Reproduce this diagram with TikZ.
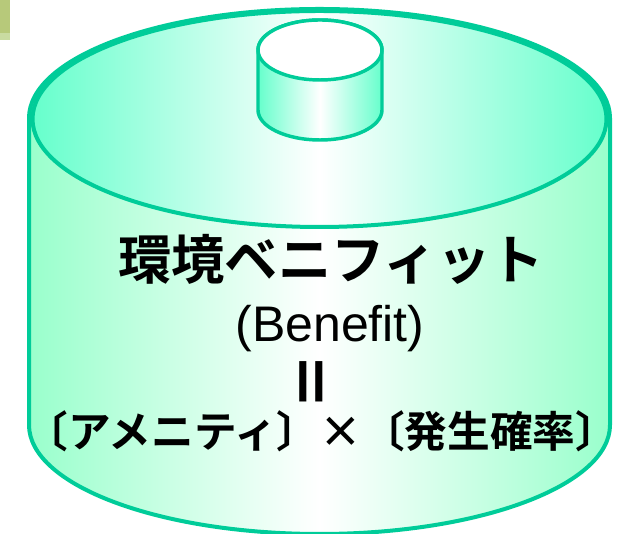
\documentclass[tikz,border=0pt]{standalone}
\usepackage{fontspec}
\setmainfont{Liberation Sans}
\newfontfamily\jpfont{Noto Sans CJK JP}[BoldFont={* Bold}]
\definecolor{rim}{HTML}{00CC99}
\definecolor{topmint}{HTML}{66FFCC}
\definecolor{bodymint}{HTML}{99FFCC}
\definecolor{barA}{HTML}{B7C97A}
\definecolor{barB}{HTML}{C9DBA1}
\tikzset{
  rimline/.style={draw=rim, line width=3pt},
  smallrim/.style={draw=rim, line width=2.6pt},
  jptext/.style={inner sep=0pt, anchor=base, font=\jpfont\bfseries},
}
\begin{document}
\begin{tikzpicture}[x=0.75pt,y=0.75pt]
\useasboundingbox (0,0) rectangle (617,534);
% corner bar
\fill[barB] (0,494) rectangle (9.5,501);
\fill[barA] (0,501) rectangle (9.5,534);
% big cylinder body
\path[rimline, left color=bodymint, right color=bodymint, middle color=white]
  (29,416) -- (29,109) arc[start angle=180, end angle=360, x radius=290.5, y radius=109]
  -- (610,416) arc[start angle=0, end angle=180, x radius=290.5, y radius=109] -- cycle;
% big top
\path[rimline, left color=topmint, right color=topmint, middle color=white]
  (319.5,415) ellipse [x radius=287, y radius=108];
% small cylinder body
\path[smallrim, left color=topmint, right color=topmint, middle color=white]
  (258,484) -- (258,424) arc[start angle=180, end angle=360, x radius=62, y radius=30]
  -- (382,484) arc[start angle=0, end angle=180, x radius=62, y radius=30] -- cycle;
\path[smallrim, fill=white] (320,484) ellipse [x radius=62, y radius=30];
% texts
\node[jptext, font=\jpfont\bfseries\fontsize{40pt}{40pt}\selectfont] (t1) at (331,254) {環境ベニフィット};
\node[inner sep=0pt, anchor=base, font=\fontsize{37.5pt}{37.5pt}\selectfont] (t2) at (330,192) {(Benefit)};
\node[inner sep=0pt, anchor=base, font=\bfseries\fontsize{32pt}{32pt}\selectfont] (t3) at (311,141) {\scalebox{1.3}[1]{||}};
\node[jptext, font=\jpfont\bfseries\fontsize{32pt}{32pt}\selectfont] (t4) at (322,86) {〔アメニティ〕×〔発生確率〕};
\end{tikzpicture}
\end{document}
